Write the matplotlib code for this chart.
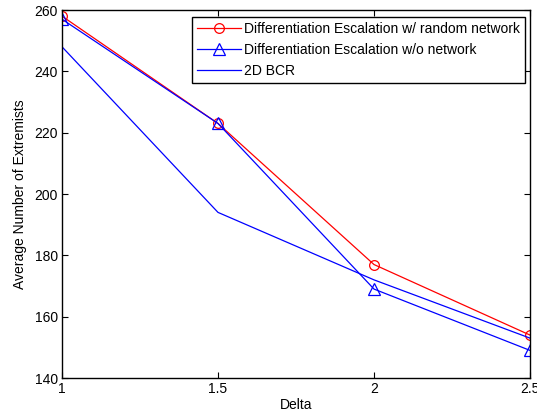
import matplotlib
matplotlib.use("Agg")
from matplotlib import pyplot as plt

## Data
delta = [1, 1.5, 2, 2.5]
rand_net = [258, 223, 177, 154]
no_net = [257, 223, 169, 149]
bcr_2d = [248, 194, 172, 153]

plt.rcParams['font.family'] = ['Liberation Sans', 'DejaVu Sans']
plt.rcParams['font.size'] = 10

fig = plt.figure(figsize=(5.37, 4.19), dpi=100)
ax = fig.add_axes([62/537, 41/419, 468/537, 368/419])

ax.plot(delta, rand_net, color='red', lw=0.9, marker='o', ms=7, mfc='none', mew=0.9,
        label='Differentiation Escalation w/ random network')
ax.plot(delta, no_net, color='blue', lw=0.9, marker='^', ms=8, mfc='none', mew=0.9,
        label='Differentiation Escalation w/o network')
ax.plot(delta, bcr_2d, color='blue', lw=0.9, label='2D BCR')

ax.set_xlim(1, 2.5)
ax.set_ylim(140, 260)
ax.set_xticks([1, 1.5, 2, 2.5])
ax.set_xticklabels(['1', '1.5', '2', '2.5'])
ax.set_yticks(range(140, 261, 20))
ax.tick_params(direction='in', top=True, right=True, length=4, width=0.8, pad=3)
for s in ax.spines.values():
    s.set_linewidth(1.0)

ax.set_xlabel('Delta', labelpad=1)
ax.set_ylabel('Average Number of Extremists', labelpad=5)

leg = ax.legend(loc='upper right', bbox_to_anchor=(0.99, 0.98), fancybox=False,
                edgecolor='black', framealpha=1, handlelength=3.2, borderpad=0.35,
                labelspacing=0.5, handletextpad=0.25, borderaxespad=0)
leg.get_frame().set_linewidth(1.0)

plt.savefig('out.png', dpi=100)
